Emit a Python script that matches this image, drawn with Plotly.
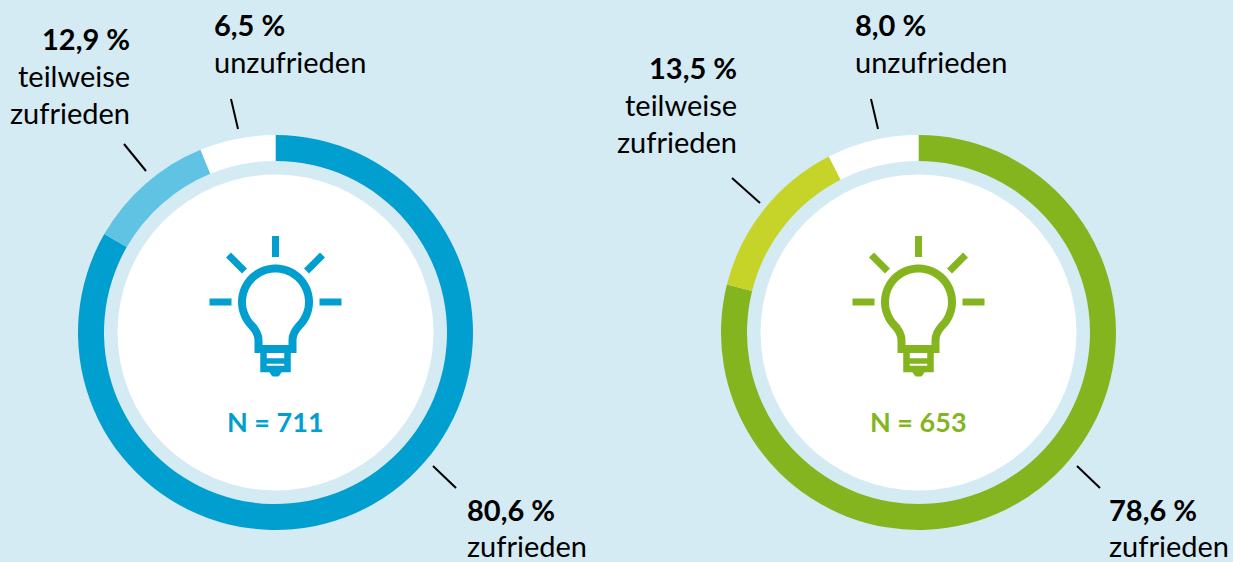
import numpy as np
import plotly.graph_objects as go

categories = ["zufrieden", "teilweise zufrieden", "unzufrieden"]
values_left = [83.3, 10.5, 6.2]
values_right = [78.9, 13.6, 7.5]
colors_left = ["#009fd0", "#60c3e3", "#ffffff"]
colors_right = ["#84b51e", "#c6d42a", "#ffffff"]
n_labels = ["N = 711", "N = 653"]
pct_left = ["80,6 %", "12,9 %", "6,5 %"]
pct_right = ["78,6 %", "13,5 %", "8,0 %"]

W, H = 1233, 562
BG = "#d4ebf4"
FONT = "Lato"
TS = 29
R_OUT, R_IN, R_WHITE = 197.5, 171.5, 158
CY = 332.5
PAD = 2.5

fig = go.Figure()


def dom(cx):
    return dict(x=[(cx - R_OUT) / W, (cx + R_OUT) / W],
                y=[1 - (CY + R_OUT) / H, 1 - (CY - R_OUT) / H])


for name, cx, vals, cols in [("Links", 275.5, values_left, colors_left),
                             ("Rechts", 918.5, values_right, colors_right)]:
    fig.add_trace(go.Pie(labels=categories, values=vals, domain=dom(cx), hole=R_IN / R_OUT,
                         sort=False, direction="clockwise", rotation=0,
                         marker=dict(colors=cols, line=dict(width=0)),
                         textinfo="none", hoverinfo="label", showlegend=False, name=name))

shapes = []
annotations = []


def line(x0, y0, x1, y1, color="#000000", w=2):
    shapes.append(dict(type="line", xref="x", yref="y", x0=x0, y0=y0, x1=x1, y1=y1,
                       line=dict(color=color, width=w), layer="above"))


def path(d, color, w, fill="rgba(0,0,0,0)"):
    shapes.append(dict(type="path", xref="x", yref="y", path=d, fillcolor=fill,
                       line=dict(color=color, width=w), layer="above"))


def icon(cx, cy, color):
    shapes.append(dict(type="circle", xref="x", yref="y", x0=cx - R_WHITE, x1=cx + R_WHITE,
                       y0=CY - R_WHITE, y1=CY + R_WHITE, fillcolor="#ffffff",
                       line=dict(width=0), layer="above"))
    for (a, b, c, d) in [(0, -66, 0, -45), (-66, 0, -44, 0), (66, 0, 44, 0),
                         (-47, -47, -31, -31), (47, -47, 31, -31)]:
        line(cx + a, cy + b, cx + c, cy + d, color, 7)
    t = np.radians(np.linspace(135, 405, 48))
    r = 33.5
    pts = " ".join(f"L{cx + r*np.cos(a):.2f},{cy + r*np.sin(a):.2f}" for a in t)
    d = (f"M{cx-17},{cy+47} L{cx-17},{cy+38} Q{cx-17},{cy+31} {cx-23.7:.2f},{cy+23.7:.2f} "
         + pts + f" Q{cx+17},{cy+31} {cx+17},{cy+38} L{cx+17},{cy+47} Z")
    path(d, color, 8)
    path(f"M{cx-12},{cy+48} L{cx-12},{cy+67} L{cx+12},{cy+67} L{cx+12},{cy+48}", color, 6.5)
    line(cx - 12, cy + 59, cx + 12, cy + 59, color, 5.5)
    path(f"M{cx-7},{cy+68} L{cx+7},{cy+68} L{cx+3},{cy+74} L{cx-3},{cy+74} Z", color, 1, color)


def txt(x, y, s, anchor="left", bold=False, color="#000000", size=TS):
    xs = {"left": -PAD, "right": PAD, "center": 0}[anchor]
    annotations.append(dict(xref="x", yref="y", x=x, y=y, xshift=xs, text=f"<b>{s}</b>" if bold else s,
                            showarrow=False, xanchor=anchor, yanchor="middle",
                            font=dict(family=FONT, size=size, color=color)))


icon(275.5, 302, colors_left[0])
icon(918.5, 302, colors_right[0])
txt(275.5, 421, n_labels[0], "center", True, colors_left[0], 27)
txt(918.5, 421, n_labels[1], "center", True, colors_right[0], 27)

line(231, 99, 238, 129)
line(124, 144, 146, 171)
line(433, 466, 456, 488)
line(871, 99, 878, 129)
line(732, 178, 760, 203)
line(1077, 466, 1100, 488)

txt(467, 509, pct_left[0], bold=True)
txt(467, 545, categories[0])
txt(129, 38, pct_left[1], "right", True)
txt(129, 75.5, "teilweise", "right")
txt(129, 112.5, "zufrieden", "right")
txt(214, 24.5, pct_left[2], bold=True)
txt(214, 61.5, categories[2])

txt(1109, 509, pct_right[0], bold=True)
txt(1109, 545, categories[0])
txt(736, 67.5, pct_right[1], "right", True)
txt(736, 104.5, "teilweise", "right")
txt(736, 141.5, "zufrieden", "right")
txt(855, 24.5, pct_right[2], bold=True)
txt(855, 61.5, categories[2])

fig.update_layout(
    width=W, height=H, margin=dict(l=0, r=0, t=0, b=0),
    paper_bgcolor=BG, plot_bgcolor=BG, showlegend=False,
    xaxis=dict(range=[0, W], visible=False, fixedrange=True),
    yaxis=dict(range=[H, 0], visible=False, fixedrange=True),
    shapes=shapes, annotations=annotations,
)
fig.write_html("out.html", config={"displayModeBar": False})
with open("out.html") as f:
    page = f.read()
page = page.replace("<head>", "<head><style>html,body{margin:0;padding:0;overflow:hidden;background:#d4ebf4}</style>", 1)
with open("out.html", "w") as f:
    f.write(page)
